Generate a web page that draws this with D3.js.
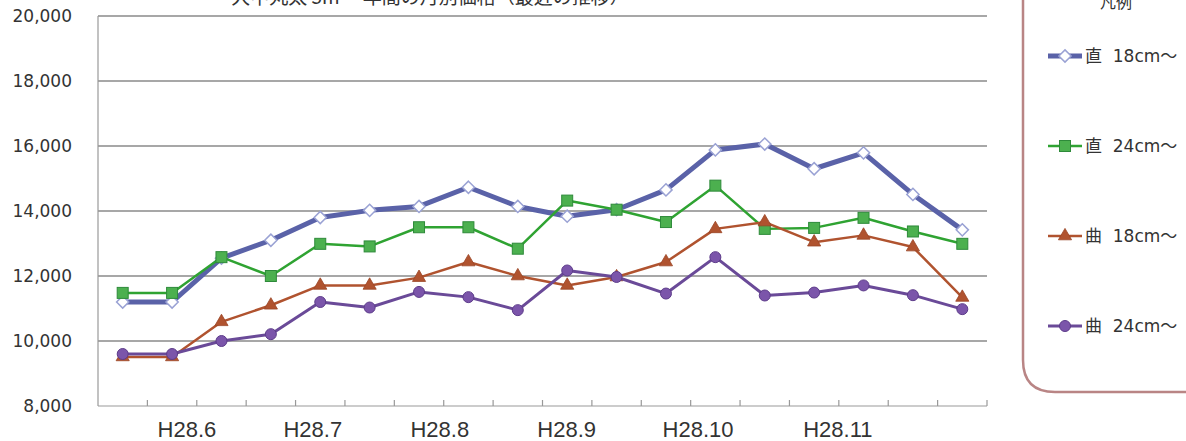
<!DOCTYPE html>
<html>
<head>
<meta charset="utf-8">
<script src="https://cdn.jsdelivr.net/npm/d3@7"></script>
<style>
  body { margin: 0; background: #fff; overflow: hidden; }
</style>
</head>
<body>
<script>
// categories: 18 periods, labelled by month
const periods = d3.range(18);
const monthLabels = ['H28.6', 'H28.7', 'H28.8', 'H28.9', 'H28.10', 'H28.11'];
// where each month label sits, in category units along the axis
const monthLabelAt = [1.8, 4.35, 6.92, 9.49, 12.15, 14.98];
const yTicks = [8000, 10000, 12000, 14000, 16000, 18000, 20000];

// series values
const choku18 = [11200, 11200, 12550, 13100, 13800, 14020, 14140, 14730, 14140,
                 13840, 14040, 14650, 15880, 16060, 15300, 15790, 14510, 13420];
const choku24 = [11480, 11480, 12580, 12000, 12990, 12910, 13500, 13500, 12840,
                 14320, 14040, 13660, 14780, 13450, 13480, 13790, 13370, 12990];
const kyoku18 = [9510, 9510, 10590, 11100, 11710, 11710, 11950, 12430, 12000,
                 11710, 11970, 12430, 13450, 13660, 13040, 13250, 12890, 11340];
const kyoku24 = [9600, 9600, 10000, 10210, 11200, 11030, 11510, 11350, 10950,
                 12170, 11970, 11460, 12580, 11400, 11490, 11710, 11410, 10980];

const series = [
  { name: '直  18cm～', values: choku18, color: '#5a62a8', width: 5, marker: 'diamond' },
  { name: '直  24cm～', values: choku24, color: '#2fa332', width: 2.5, marker: 'square' },
  { name: '曲  18cm～', values: kyoku18, color: '#b0532f', width: 2.5, marker: 'triangle' },
  { name: '曲  24cm～', values: kyoku24, color: '#6a4a98', width: 3, marker: 'circle' }
];

const width = 1186, height = 441;

const x = d3.scaleLinear().domain([0, 18]).range([98, 987]);
const y = d3.scaleLinear().domain([8000, 20000]).range([406, 16]);

const svg = d3.select('body')
  .append('svg')
  .attr('width', width)
  .attr('height', height)
  .style('background', '#fff');

// title, mostly cut off at the top of the picture
svg.append('text')
  .attr('x', 430)
  .attr('y', 4)
  .attr('text-anchor', 'middle')
  .style('font-family', '"Noto Sans CJK JP", sans-serif')
  .style('font-size', '19px')
  .style('fill', '#333')
  .text('大中丸太 5m 一年間の月別価格（最近の推移）');

// gridlines
svg.append('g')
  .selectAll('line')
  .data(yTicks.slice(1))
  .join('line')
  .attr('x1', x(0))
  .attr('x2', x(18))
  .attr('y1', d => y(d))
  .attr('y2', d => y(d))
  .style('stroke', '#8a8a8a')
  .style('stroke-width', 1.3);

// axes lines
svg.append('line')
  .attr('x1', x(0)).attr('x2', x(0))
  .attr('y1', y(8000)).attr('y2', y(20000))
  .style('stroke', '#999').style('stroke-width', 1.2);
svg.append('line')
  .attr('x1', x(0)).attr('x2', x(18))
  .attr('y1', y(8000)).attr('y2', y(8000))
  .style('stroke', '#999').style('stroke-width', 1.2);

// tick marks between categories, pointing up
svg.append('g')
  .selectAll('line')
  .data(d3.range(1, 19))
  .join('line')
  .attr('x1', d => x(d))
  .attr('x2', d => x(d))
  .attr('y1', y(8000))
  .attr('y2', y(8000) - 6)
  .style('stroke', '#999')
  .style('stroke-width', 1.2);

// y tick labels
svg.append('g')
  .selectAll('text')
  .data(yTicks)
  .join('text')
  .attr('x', 72)
  .attr('y', d => y(d) + 6)
  .attr('text-anchor', 'end')
  .style('font-family', '"DejaVu Sans", sans-serif')
  .style('font-size', '17px')
  .style('fill', '#333')
  .text(d => d3.format(',')(d));

// month labels
svg.append('g')
  .selectAll('text')
  .data(monthLabels)
  .join('text')
  .attr('x', (d, i) => x(monthLabelAt[i]))
  .attr('y', 437)
  .attr('text-anchor', 'middle')
  .style('font-family', '"Liberation Sans Narrow", "Liberation Sans", sans-serif')
  .style('font-size', '22px')
  .style('fill', '#333')
  .text(d => d);

// marker drawing helper
function drawMarker(g, type, color, cx, cy) {
  if (type === 'diamond') {
    g.append('path')
      .attr('d', d3.symbol(d3.symbolDiamond2, 95)())
      .attr('transform', `translate(${cx},${cy})`)
      .style('fill', '#fff')
      .style('stroke', '#9aa2d4')
      .style('stroke-width', 1.5);
  } else if (type === 'square') {
    g.append('rect')
      .attr('x', cx - 5.5).attr('y', cy - 5.5)
      .attr('width', 11).attr('height', 11)
      .style('fill', '#4cb04f')
      .style('stroke', '#2e8a3a')
      .style('stroke-width', 1);
  } else if (type === 'triangle') {
    g.append('path')
      .attr('d', d3.symbol(d3.symbolTriangle, 75)())
      .attr('transform', `translate(${cx},${cy})`)
      .style('fill', '#b0532f')
      .style('stroke', '#9a4526')
      .style('stroke-width', 0.8);
  } else {
    g.append('circle')
      .attr('cx', cx).attr('cy', cy).attr('r', 5.5)
      .style('fill', '#7b55aa')
      .style('stroke', '#5d3c8a')
      .style('stroke-width', 1);
  }
}

const line = d3.line()
  .x((d, i) => x(i + 0.5))
  .y(d => y(d));

// lines and markers
series.forEach(s => {
  const g = svg.append('g');
  g.append('path')
    .attr('d', line(s.values))
    .style('fill', 'none')
    .style('stroke', s.color)
    .style('stroke-width', s.width)
    .style('stroke-linejoin', 'round');
  s.values.forEach((v, i) => drawMarker(g, s.marker, s.color, x(i + 0.5), y(v)));
});

// legend box with a rounded lower-left corner
svg.append('path')
  .attr('d', 'M1023,-5 L1023,360 Q1023,392 1055,392 L1195,392')
  .style('fill', '#fff')
  .style('stroke', '#b98585')
  .style('stroke-width', 2.5);

svg.append('text')
  .attr('x', 1116)
  .attr('y', 8)
  .attr('text-anchor', 'middle')
  .style('font-family', '"Noto Sans CJK JP", sans-serif')
  .style('font-size', '16px')
  .style('fill', '#333')
  .text('凡例');

const legendY = d3.scalePoint().domain(series.map(s => s.name)).range([56, 326]);

series.forEach(s => {
  const ly = legendY(s.name);
  const g = svg.append('g');
  g.append('line')
    .attr('x1', 1048).attr('x2', 1082)
    .attr('y1', ly).attr('y2', ly)
    .style('stroke', s.color)
    .style('stroke-width', s.width);
  drawMarker(g, s.marker, s.color, 1065, ly);
  g.append('text')
    .attr('x', 1085)
    .attr('y', ly + 6)
    .attr('xml:space', 'preserve')
    .style('font-family', '"DejaVu Sans", "Noto Sans CJK JP", sans-serif')
    .style('font-size', '17px')
    .style('fill', '#333')
    .style('white-space', 'pre')
    .text(s.name);
});
</script>
</body>
</html>
